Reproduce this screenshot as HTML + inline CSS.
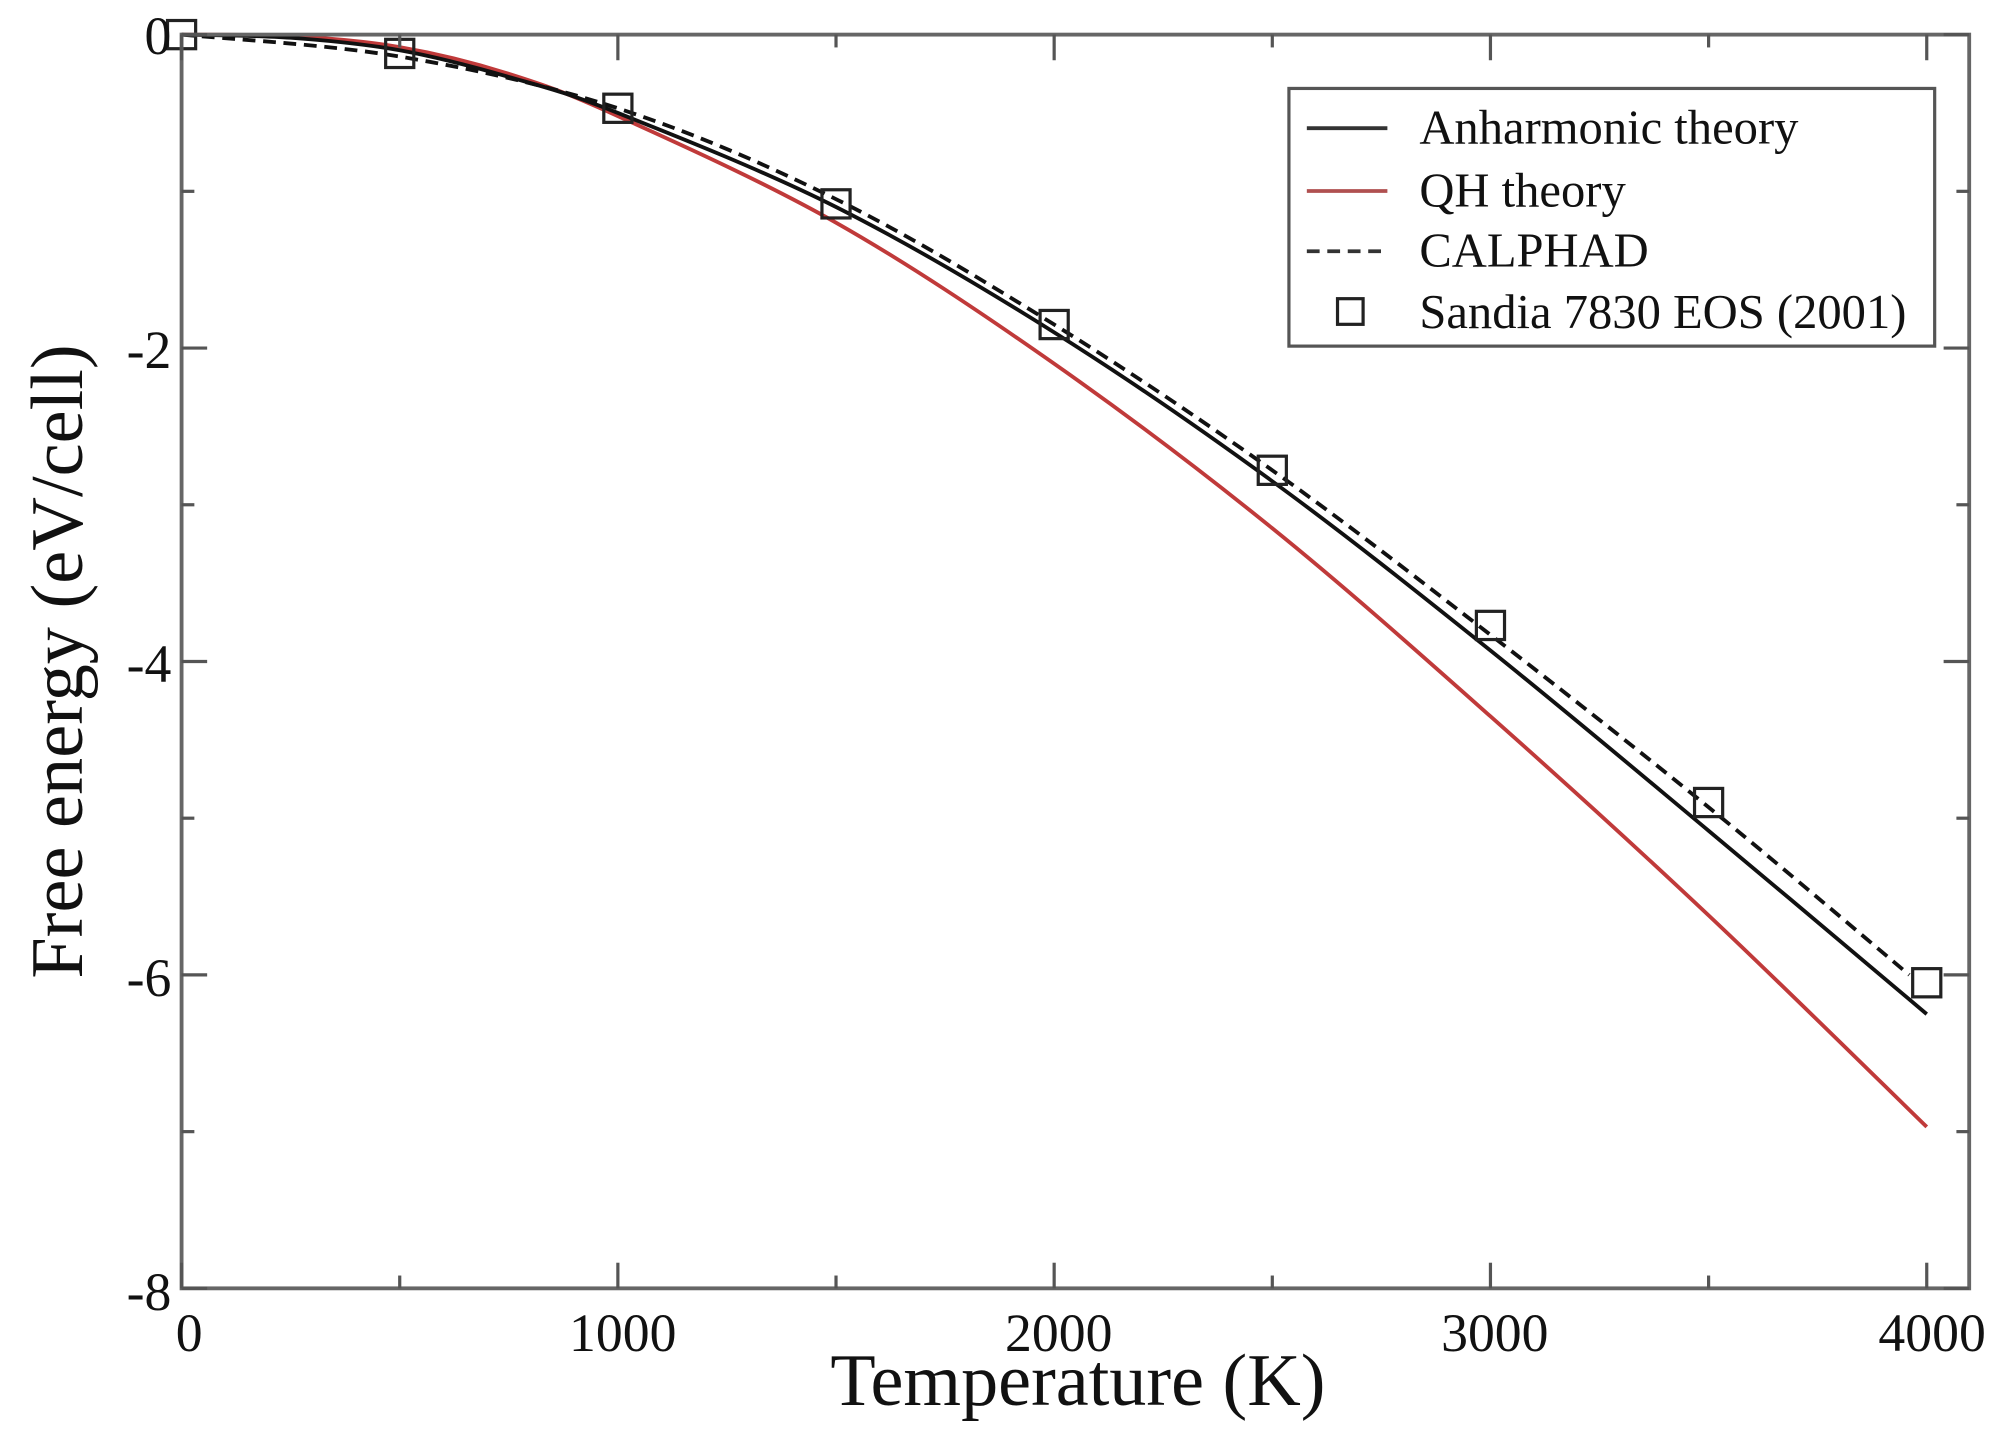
<!DOCTYPE html>
<html><head><meta charset="utf-8"><style>
html,body{margin:0;padding:0;background:#fff;}
svg{display:block;}
text{font-family:"Liberation Serif",serif;fill:#111;}
</style></head><body>
<svg id="s" width="2005" height="1455" viewBox="0 0 1568 1135" preserveAspectRatio="none" xmlns="http://www.w3.org/2000/svg">
<g id="plot"></g>
<rect x="142" y="27" width="1398" height="978" fill="none" stroke="#666" stroke-width="3"/>
<g id="ticks" stroke="#555" stroke-width="2.5"></g>
<g font-size="42">
<text x="134" y="42" text-anchor="end">0</text>
<text x="134" y="287" text-anchor="end">-2</text>
<text x="134" y="532" text-anchor="end">-4</text>
<text x="134" y="777" text-anchor="end">-6</text>
<text x="134" y="1022" text-anchor="end">-8</text>
<text x="148" y="1054" text-anchor="middle">0</text>
<text x="487" y="1054" text-anchor="middle">1000</text>
<text x="828" y="1054" text-anchor="middle">2000</text>
<text x="1169" y="1054" text-anchor="middle">3000</text>
<text x="1511" y="1054" text-anchor="middle">4000</text>
</g>
<text x="843" y="1096" font-size="58" text-anchor="middle">Temperature (K)</text>
<text transform="translate(64,516) rotate(-90)" font-size="58" text-anchor="middle">Free energy (eV/cell)</text>
<rect x="1008" y="69" width="505" height="201" fill="#fff" stroke="#555" stroke-width="2.5"/>
<line x1="1022" y1="100" x2="1085" y2="100" stroke="#333" stroke-width="3"/>
<line x1="1022" y1="149" x2="1085" y2="149" stroke="#b05050" stroke-width="3"/>
<line x1="1022" y1="196" x2="1085" y2="196" stroke="#333" stroke-width="3" stroke-dasharray="10,6"/>
<rect x="1046" y="233" width="20" height="20" fill="none" stroke="#222" stroke-width="2.5"/>
<g font-size="38">
<text x="1110" y="112">Anharmonic theory</text>
<text x="1110" y="161">QH theory</text>
<text x="1110" y="208">CALPHAD</text>
<text x="1110" y="256">Sandia 7830 EOS (2001)</text>
</g>
</svg>
<script>
var X=function(t){return 142+t*0.3412;}, Y=function(v){return 27-v*122.25;};
var ns="http://www.w3.org/2000/svg";
function el(p,n,a){var e=document.createElementNS(ns,n);for(var k in a)e.setAttribute(k,a[k]);p.appendChild(e);return e;}
var tk=document.getElementById('ticks');
for(var i=0;i<=8;i++){var t=i*500,L=i%2?10:20;
 el(tk,'line',{x1:X(t),y1:1005,x2:X(t),y2:1005-L});el(tk,'line',{x1:X(t),y1:27,x2:X(t),y2:27+L});}
for(var v=0;v>=-8;v--){var L=v%2?10:20;
 el(tk,'line',{x1:142,y1:Y(v),x2:142+L,y2:Y(v)});el(tk,'line',{x1:1540,y1:Y(v),x2:1540-L,y2:Y(v)});}
function path(ts,vs){var p=ts.map(function(t,i){return [X(t),Y(vs[i])];});
 var d='M'+p[0][0]+','+p[0][1];
 for(var i=0;i<p.length-1;i++){var p0=p[Math.max(0,i-1)],p1=p[i],p2=p[i+1],p3=p[Math.min(p.length-1,i+2)];
 d+=' C'+(p1[0]+(p2[0]-p0[0])/6)+','+(p1[1]+(p2[1]-p0[1])/6)+' '+(p2[0]-(p3[0]-p1[0])/6)+','+(p2[1]-(p3[1]-p1[1])/6)+' '+p2[0]+','+p2[1];}
 return d;}
var g=document.getElementById('plot');
el(g,'path',{d:path([0,250,500,750,1000,1500,2000,2500,3000,3500,4000],[0,-0.01,-0.08,-0.25,-0.52,-1.2,-2.1,-3.15,-4.35,-5.62,-6.97]),fill:'none',stroke:'#c03a3a','stroke-width':3});
el(g,'path',{d:path([0,250,500,750,1000,1500,2000,2500,3000,3500,4000],[0,-0.02,-0.1,-0.27,-0.5,-1.1,-1.9,-2.85,-3.93,-5.08,-6.25]),fill:'none',stroke:'#111','stroke-width':3});
el(g,'path',{d:path([0,500,1000,1500,2000,2500,3000,3500,3960],[0,-0.14,-0.47,-1.05,-1.85,-2.78,-3.83,-4.93,-6.0]),fill:'none',stroke:'#111','stroke-width':3,'stroke-dasharray':'10,6'});
var T=[0,500,1000,1500,2000,2500,3000,3500,4000];
var S=[0,-0.12,-0.47,-1.08,-1.85,-2.78,-3.77,-4.9,-6.05];
T.forEach(function(t,i){el(g,'rect',{x:X(t)-11,y:Y(S[i])-11,width:22,height:22,fill:'none',stroke:'#222','stroke-width':2.5});});
</script>
</body></html>
